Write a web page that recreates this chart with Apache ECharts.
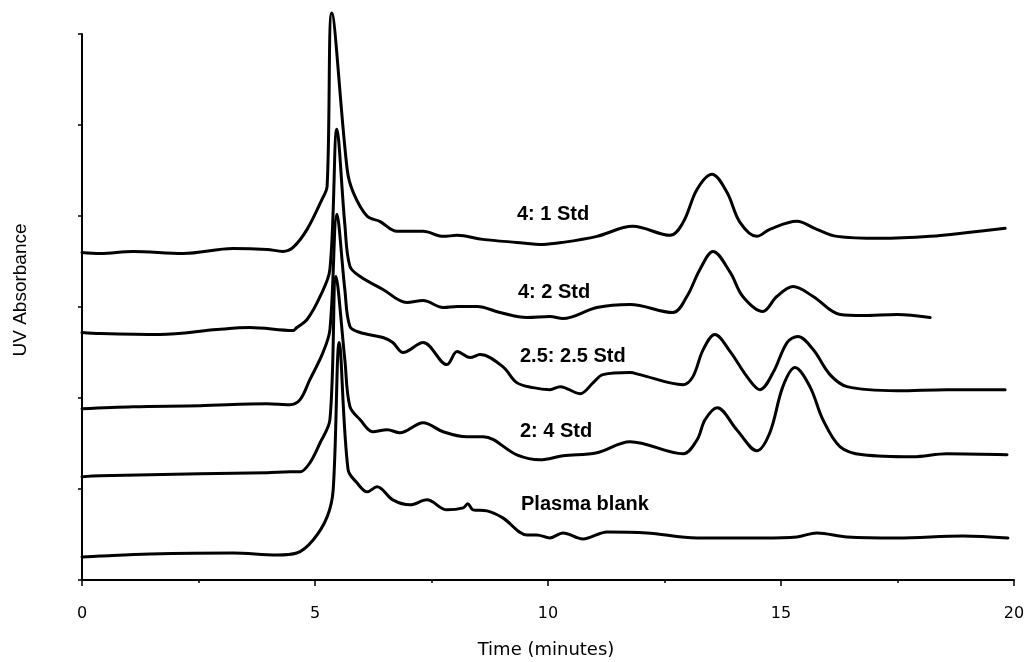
<!DOCTYPE html>
<html>
<head>
<meta charset="utf-8">
<script src="https://cdn.jsdelivr.net/npm/echarts@6/dist/echarts.min.js"></script>
<style>
html,body{margin:0;padding:0;background:#fff;}
#c{width:1034px;height:662px;}
</style>
</head>
<body>
<div id="c"></div>
<script>
// Time axis ticks (minutes)
var xTicks = [0, 5, 10, 15, 20];
// Trace labels
var traceNames = ['4: 1 Std', '4: 2 Std', '2.5: 2.5 Std', '2: 4 Std', 'Plasma blank'];

// Each trace: [time (min), UV absorbance (arbitrary units)]
var std41 = [[0,327],[0.39,326],[1.09,328],[2.17,326],[3.24,331],[3.97,330],[4.31,328],[4.53,332],
  [4.83,350],[5.15,380],[5.26,393],[5.36,566],[5.69,410],[5.82,387],[6.12,363],[6.39,358],[6.76,348],
  [7.32,348],[7.75,343],[8.05,344],[8.6,340],[9.33,337],[9.89,335],[10.32,337],[11.05,343],
  [11.82,353],[12.62,344],[12.9,357],[13.2,390],[13.52,405],[13.84,387],[14.12,357],[14.48,343],
  [14.76,350],[15.34,358],[15.77,350],[16.2,343],[17.12,341],[18.2,343],[19.06,347],[19.81,351]];

var std42 = [[0,247],[0.39,246],[1.67,245],[2.9,250],[3.6,252],[4.53,249],[4.61,252],[4.83,260],
  [5.11,283],[5.32,310],[5.47,450],[5.64,355],[5.75,313],[5.97,303],[6.46,290],[6.97,277],[7.32,279],
  [7.75,272],[8.05,273],[8.48,273],[8.97,267],[9.55,262],[10.04,263],[10.32,261],[11.05,272],[11.76,275],
  [12.68,267],[12.98,283],[13.26,310],[13.54,328],[13.91,307],[14.18,283],[14.61,268],[14.91,283],
  [15.26,293],[15.69,283],[16.27,265],[16.76,264],[17.49,265],[18.2,262]];

var std2525 = [[0,171],[1.09,173],[2.53,174],[3.97,176],[4.46,175],[4.68,180],[4.89,200],[5.17,227],
  [5.32,250],[5.47,365],[5.64,290],[5.75,253],[5.97,247],[6.46,242],[6.67,237],[6.89,227],[7.32,237],
  [7.83,215],[8.05,228],[8.33,222],[8.54,225],[9.03,213],[9.33,197],[9.68,192],[10.04,190],[10.26,193],
  [10.69,186],[10.97,197],[11.18,205],[11.76,207],[11.97,205],[12.9,195],[13.11,203],[13.33,230],
  [13.58,245],[13.91,228],[14.27,203],[14.55,190],[14.83,207],[15.13,237],[15.36,243],[15.69,230],
  [16.05,205],[16.42,193],[17.49,189],[18.56,190],[19.81,190]];

var std24 = [[0,103],[0.39,104],[2.53,106],[3.97,107],[4.46,108],[4.68,108],[4.89,117],[5.11,137],
  [5.32,160],[5.45,303],[5.64,220],[5.75,173],[5.97,160],[6.24,148],[6.55,150],[6.82,147],[7.32,157],
  [7.75,148],[8.26,143],[8.61,143],[9.33,125],[9.83,120],[10.32,124],[11.05,127],[11.76,138],[12.9,126],
  [13.2,140],[13.37,160],[13.63,172],[14.05,150],[14.48,129],[14.76,147],[15.04,193],[15.3,212],
  [15.62,193],[15.9,160],[16.27,133],[16.76,125],[17.83,123],[18.56,126],[19.85,125]];

var plasmaBlank = [[0,23],[0.39,24],[1.46,26],[3.24,27],[4.18,25],[4.61,27],[4.96,40],[5.26,63],
  [5.39,90],[5.52,237],[5.71,110],[5.9,97],[6.12,88],[6.33,93],[6.67,80],[7.04,75],[7.4,80],[7.83,70],
  [8.18,72],[8.28,76],[8.39,70],[8.69,69],[9.03,62],[9.55,45],[9.76,45],[10.04,42],[10.32,47],[10.75,41],
  [11.27,48],[12.12,47],[13.2,42],[14.61,42],[15.34,43],[15.77,47],[16.42,43],[17.49,42],[18.91,44],[19.87,42]];

var traces = [std41, std42, std2525, std24, plasmaBlank];

var chart = echarts.init(document.getElementById('c'), null, {renderer: 'canvas'});

var series = traces.map(function (d, i) {
  return {
    name: traceNames[i],
    type: 'line',
    data: d,
    showSymbol: false,
    smooth: 0.35,
    clip: false,
    lineStyle: {color: '#000', width: 3, join: 'round', cap: 'round'},
    z: 3
  };
});

var labelPos = [[517, 214], [518, 292], [520, 356], [520, 431], [521, 504]];
var graphics = traceNames.map(function (n, i) {
  return {
    type: 'text',
    x: labelPos[i][0],
    y: labelPos[i][1],
    style: {text: n, fill: '#000', font: 'bold 20px "Liberation Sans", Arial, sans-serif',
      align: 'left', verticalAlign: 'middle'}
  };
});
graphics.push({
  type: 'text',
  x: 21,
  y: 290,
  rotation: Math.PI / 2,
  style: {text: 'UV Absorbance', fill: '#000', font: '19px "Liberation Sans", Arial, sans-serif',
    align: 'center', verticalAlign: 'middle'}
});
graphics.push({
  type: 'text',
  x: 546,
  y: 650,
  style: {text: 'Time (minutes)', fill: '#000', font: '18px "DejaVu Sans", sans-serif',
    align: 'center', verticalAlign: 'middle'}
});

chart.setOption({
  animation: false,
  backgroundColor: '#fff',
  grid: {left: 82, right: 20, top: 34, bottom: 82, containLabel: false},
  xAxis: {
    type: 'value',
    min: xTicks[0],
    max: xTicks[xTicks.length - 1],
    interval: 5,
    axisLine: {show: true, lineStyle: {color: '#000', width: 2}},
    axisTick: {show: true, inside: false, length: 6, lineStyle: {color: '#000', width: 1.5}},
    minorTick: {show: true, splitNumber: 2, length: 3, lineStyle: {color: '#000', width: 1.5}},
    splitLine: {show: false},
    axisLabel: {color: '#000', fontFamily: 'DejaVu Sans', fontSize: 16, margin: 26}
  },
  yAxis: {
    type: 'value',
    min: 0,
    max: 545,
    interval: 545 / 6,
    axisLine: {show: true, lineStyle: {color: '#000', width: 2}},
    axisTick: {show: true, inside: false, length: 4, lineStyle: {color: '#000', width: 1.5}},
    splitLine: {show: false},
    axisLabel: {show: false}
  },
  series: series,
  graphic: graphics
});
</script>
</body>
</html>
